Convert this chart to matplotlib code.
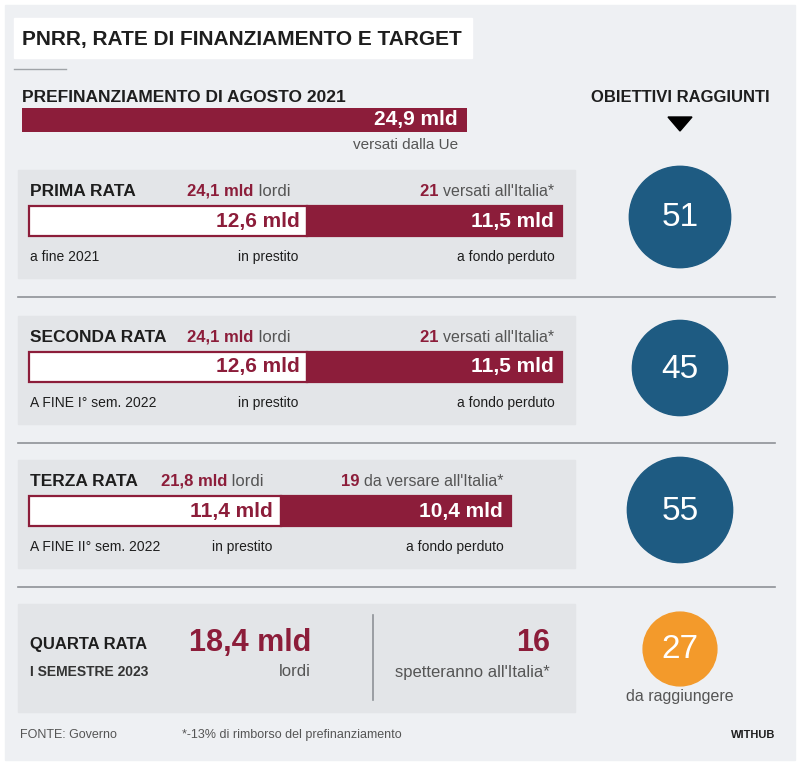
import matplotlib
matplotlib.use("Agg")
import matplotlib.pyplot as plt
from matplotlib.patches import Rectangle, Ellipse, Polygon

W, H = 800, 768

# ---- data ----
prefin_value = 24.9
rate_names = ["PRIMA RATA", "SECONDA RATA", "TERZA RATA"]
rate_when = ["a fine 2021", "A FINE I° sem. 2022", "A FINE II° sem. 2022"]
rate_lordi = [24.1, 24.1, 21.8]
rate_prestito = [12.6, 12.6, 11.4]
rate_fondo = [11.5, 11.5, 10.4]
rate_italia = [21, 21, 19]
rate_italia_txt = ["versati all'Italia*", "versati all'Italia*", "da versare all'Italia*"]
quarta_lordi = 18.4
quarta_italia = 16
obiettivi = [51, 45, 55, 27]

CRIMSON = "#8c1d3a"
BLUE = "#1e5b82"
ORANGE = "#f39a2b"
PANEL = "#e3e5e8"
BG = "#eef0f3"
DARK = "#1e1e1e"
GREY = "#555555"

plt.rcParams["font.family"] = ["Liberation Sans", "DejaVu Sans"]


def fmt(v):
    return f"{v:.1f}".replace(".", ",")


def px_axes(fig, x0, y0, x1, y1):
    # pixel box (top-left origin) -> figure fraction axes
    return fig.add_axes([x0 / W, 1 - y1 / H, (x1 - x0) / W, (y1 - y0) / H])


fig = plt.figure(figsize=(W / 100, H / 100), dpi=100)
fig.patch.set_facecolor("white")
ax = fig.add_axes([0, 0, 1, 1])
ax.set_xlim(0, W)
ax.set_ylim(H, 0)
ax.axis("off")

ax.add_patch(Rectangle((5, 5), 790, 755, color=BG, zorder=0))

# title
ax.add_patch(Rectangle((14, 18), 458, 40, color="white", zorder=1))
ax.text(22, 39, "PNRR, RATE DI FINANZIAMENTO E TARGET", fontsize=15, fontweight="bold",
        color=DARK, va="center", zorder=2)
ax.plot([14, 66], [69, 69], color="#a0a4a8", lw=1)

# prefinanziamento
ax.text(22, 97, "PREFINANZIAMENTO DI AGOSTO 2021", fontsize=12.5, fontweight="bold",
        color=DARK, va="center")
pax = px_axes(fig, 22, 108, 467, 132)
pax.barh(0, prefin_value, height=1, color=CRIMSON)
pax.set_xlim(0, prefin_value)
pax.set_ylim(-0.5, 0.5)
pax.axis("off")
pax.annotate(f"{fmt(prefin_value)} mld", (prefin_value, 0), xytext=(-9, 0),
             textcoords="offset pixels", ha="right", va="center", color="white",
             fontsize=15, fontweight="bold")
ax.text(458, 145, "versati dalla Ue", fontsize=11, color=GREY, ha="right", va="center")

# obiettivi header
ax.text(680, 97, "OBIETTIVI RAGGIUNTI", fontsize=12, fontweight="bold", color=DARK,
        ha="center", va="center")
ax.add_patch(Polygon([[668, 117], [692, 117], [680, 131]], color="black"))

# rate panels
tops = [170, 316, 460]
centers = [217, 368, 510, 649]
PX_PER_BN = 22.1
for i, top in enumerate(tops):
    ax.add_patch(Rectangle((18, top), 557, 108, color=PANEL, zorder=0.5))
    ax.text(30, top + 21, rate_names[i], fontsize=12.5, fontweight="bold", color=DARK,
            va="center")
    right = 29 + rate_lordi[i] * PX_PER_BN
    bx = px_axes(fig, 29, top + 36, right, top + 66)
    bx.barh(0, rate_prestito[i], height=1, color="white", edgecolor=CRIMSON, lw=1.6,
            clip_on=False)
    bx.barh(0, rate_fondo[i], left=rate_prestito[i], height=1, color=CRIMSON,
            edgecolor=CRIMSON, lw=1.6, clip_on=False)
    bx.set_xlim(0, rate_lordi[i])
    bx.set_ylim(-0.5, 0.5)
    bx.axis("off")
    bx.annotate(f"{fmt(rate_prestito[i])} mld", (rate_prestito[i], 0), xytext=(-8, 0),
                textcoords="offset pixels", ha="right", va="center", color=CRIMSON,
                fontsize=15, fontweight="bold")
    bx.annotate(f"{fmt(rate_fondo[i])} mld", (rate_lordi[i], 0), xytext=(-8, 0),
                textcoords="offset pixels", ha="right", va="center", color="white",
                fontsize=15, fontweight="bold")
    # header amounts
    split_x = 29 + rate_prestito[i] * PX_PER_BN
    t1 = ax.text(split_x - 120, top + 21, f"{fmt(rate_lordi[i])} mld", fontsize=12,
                 fontweight="bold", color=CRIMSON, va="center")
    ax.annotate(" lordi", xycoords=t1, xy=(1, 0.5), va="center", fontsize=12, color=GREY)
    t2 = ax.text(right - 7, top + 21, rate_italia_txt[i], fontsize=11.5, color=GREY,
                 ha="right", va="center")
    ax.annotate(f"{rate_italia[i]} ", xycoords=t2, xy=(0, 0.5), ha="right", va="center",
                fontsize=12, fontweight="bold", color=CRIMSON)
    # bottom labels
    ax.text(30, top + 87, rate_when[i], fontsize=10, color=DARK, va="center")
    ax.text(split_x - 9, top + 87, "in prestito", fontsize=10, color=DARK, ha="right",
            va="center")
    ax.text(right - 7, top + 87, "a fondo perduto", fontsize=10, color=DARK, ha="right",
            va="center")
    # separator
    ax.plot([18, 775], [top + 127, top + 127], color="#8e9297", lw=1.2)

# quarta rata
ax.add_patch(Rectangle((18, 604), 557, 108, color=PANEL, zorder=0.5))
ax.text(30, 645, "QUARTA RATA", fontsize=12, fontweight="bold", color=DARK, va="center")
ax.text(30, 672, "I SEMESTRE 2023", fontsize=10, fontweight="bold", color="#333333",
        va="center")
ax.text(311, 643, f"{fmt(quarta_lordi)} mld", fontsize=22, fontweight="bold",
        color=CRIMSON, ha="right", va="center")
ax.text(311, 672, "lordi", fontsize=12, color=GREY, ha="right", va="center")
ax.plot([373, 373], [615, 700], color="#8e9297", lw=1.2)
ax.text(550, 643, f"{quarta_italia}", fontsize=22, fontweight="bold", color=CRIMSON,
        ha="right", va="center")
ax.text(550, 672, "spetteranno all'Italia*", fontsize=12, color=GREY, ha="right",
        va="center")

# target circles, area proportional to count
for i, n in enumerate(obiettivi):
    r = 7.1 * n ** 0.5
    col = ORANGE if i == len(obiettivi) - 1 else BLUE
    ax.add_patch(Ellipse((680, centers[i]), 2 * r, 2 * r, color=col, zorder=2))
    ax.text(680, centers[i] + 1, str(n), fontsize=24, color="white", ha="center",
            va="center", zorder=3)
ax.text(680, 697, "da raggiungere", fontsize=11.5, color=GREY, ha="center", va="center")

# footer
ax.text(20, 735, "FONTE: Governo", fontsize=9, color=GREY, va="center")
ax.text(182, 735, "*-13% di rimborso del prefinanziamento", fontsize=9, color=GREY,
        va="center")
ax.text(775, 735, "WITHUB", fontsize=8, fontweight="bold", color=DARK, ha="right",
        va="center")

fig.savefig("out.png", dpi=100, facecolor=fig.get_facecolor())
